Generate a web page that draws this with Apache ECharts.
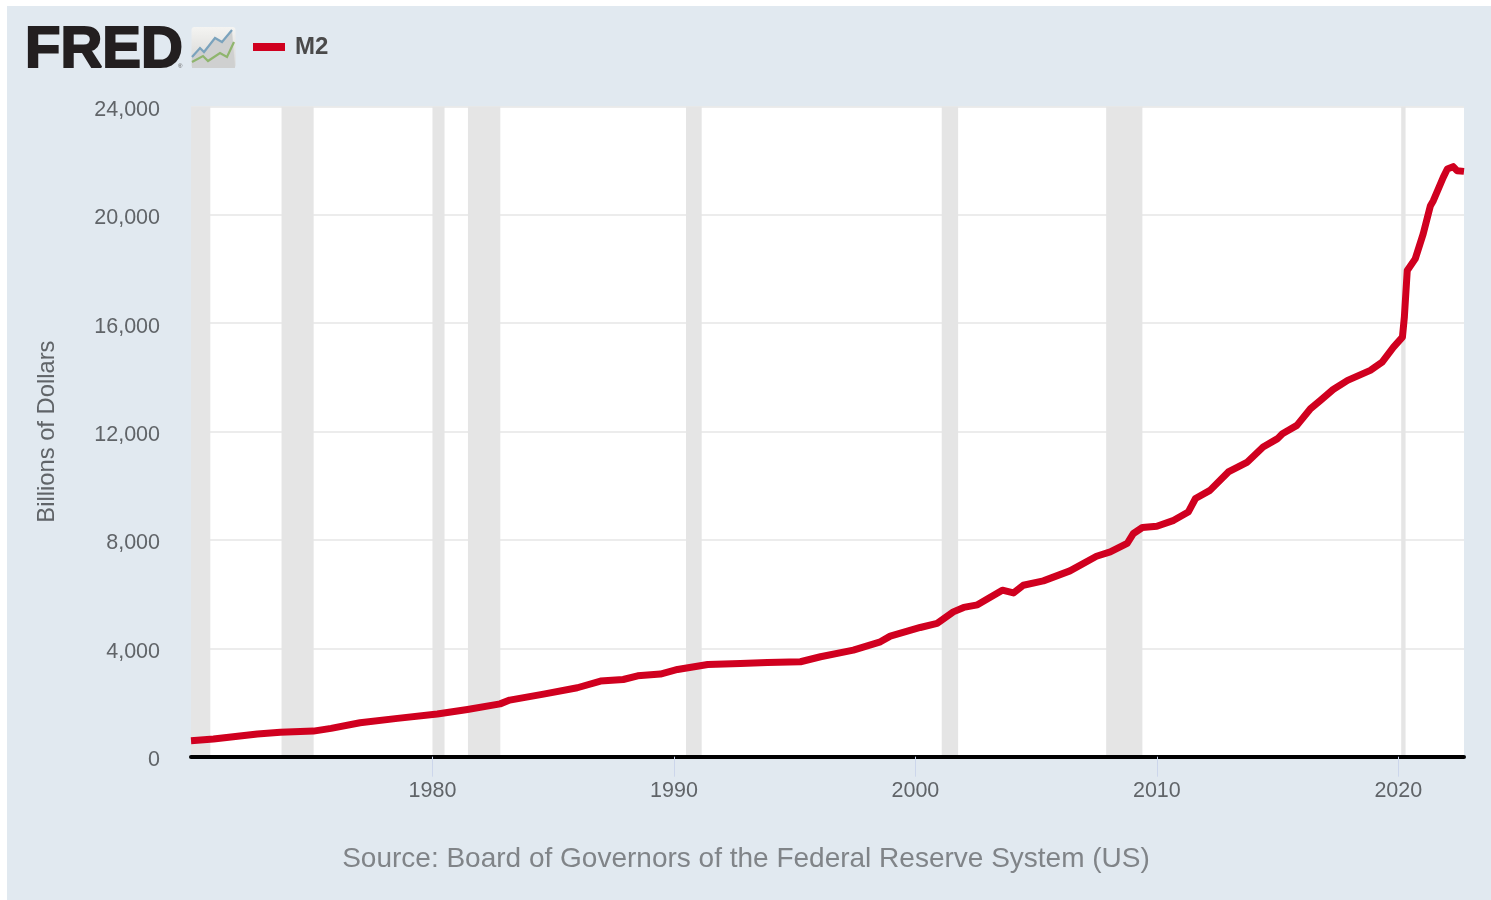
<!DOCTYPE html>
<html>
<head>
<meta charset="utf-8">
<style>
html,body{margin:0;padding:0;background:#fff;width:1491px;height:900px;overflow:hidden}
#panel{position:absolute;left:7px;top:6px;width:1484px;height:894px;background:#e1e9f0}
#chart{position:absolute;left:0;top:0;width:1491px;height:900px}
</style>
<script src="https://cdn.jsdelivr.net/npm/echarts@6/dist/echarts.min.js"></script>
</head>
<body>
<div id="panel"></div>
<div id="chart"></div>
<script>
const seriesName = 'M2';
const years = [1970.0,1970.93,1972.75,1973.7,1975.07,1975.8,1977.0,1978.55,1980.2,1981.45,1982.8,1983.2,1984.6,1986.0,1986.96,1987.9,1988.5,1989.44,1990.15,1991.4,1992.75,1993.87,1995.24,1996.07,1997.43,1998.55,1998.96,2000.2,2000.9,2001.57,2002.0,2002.57,2003.6,2004.06,2004.47,2005.3,2006.4,2007.5,2008.07,2008.77,2009.03,2009.4,2010.0,2010.7,2011.3,2011.6,2012.2,2012.96,2013.75,2014.4,2015.0,2015.2,2015.8,2016.36,2016.77,2017.3,2017.9,2018.84,2019.33,2019.8,2020.17,2020.25,2020.37,2020.7,2021.03,2021.33,2021.45,2021.86,2022.03,2022.27,2022.43,2022.72];
const m2 = [590,650,835,900,945,1045,1255,1415,1575,1745,1950,2090,2310,2545,2790,2850,2985,3050,3220,3405,3440,3480,3505,3690,3935,4240,4450,4770,4920,5345,5510,5605,6145,6045,6330,6490,6860,7400,7560,7870,8240,8460,8505,8725,9030,9530,9830,10510,10875,11430,11740,11920,12230,12845,13150,13555,13890,14260,14565,15120,15490,16225,17945,18375,19300,20340,20525,21385,21695,21780,21630,21605];
const recessionStart = [1970.0,1973.75,1980.0,1981.47,1990.5,2001.09,2007.9,2020.12];
const recessionEnd   = [1970.8,1975.08,1980.5,1982.81,1991.15,2001.77,2009.4,2020.3];
const xTicks = [1980,1990,2000,2010,2020];
const yMax = 24000, yStep = 4000;
const yAxisTitle = 'Billions of Dollars';
const sourceText = 'Source: Board of Governors of the Federal Reserve System (US)';
const font = '"Liberation Sans", Arial, sans-serif';

const chart = echarts.init(document.getElementById('chart'), null, {renderer:'canvas'});
chart.setOption({
  animation:false,
  backgroundColor:'transparent',
  textStyle:{fontFamily:font},
  title:{
    text:sourceText, left:741, top:840, textAlign:'center',
    textStyle:{fontFamily:font,fontSize:28,fontWeight:'normal',color:'#808488'}
  },
  legend:{
    left:248, top:30, icon:'rect', itemWidth:32, itemHeight:8,
    data:[seriesName],
    textStyle:{fontFamily:font,fontSize:24,fontWeight:'bold',color:'#4a4a4a',padding:[0,0,0,5]}
  },
  grid:{left:191,right:27,top:106.5,height:650.2,show:true,backgroundColor:'#fff',borderWidth:0,containLabel:false},
  xAxis:{
    type:'value', min:1970, max:2022.72, interval:10, boundaryGap:false, z:10,
    splitLine:{show:false},
    axisLine:{show:true,onZero:false,lineStyle:{color:'#000',width:4}},
    axisTick:{show:true,length:20,customValues:xTicks,lineStyle:{color:'#ccd6eb',width:1}},
    axisLabel:{customValues:xTicks,margin:23,fontSize:21.5,color:'#606468',fontFamily:font,formatter:v=>String(v)}
  },
  yAxis:{
    type:'value', min:0, max:yMax, interval:yStep,
    name:yAxisTitle, nameLocation:'middle', nameGap:132, nameRotate:90,
    nameTextStyle:{fontFamily:font,fontSize:23.75,color:'#606468'},
    axisLine:{show:false}, axisTick:{show:false},
    splitLine:{show:true,lineStyle:{color:'#e6e6e6',width:1.5}},
    axisLabel:{margin:31,fontSize:21.5,color:'#606468',fontFamily:font,verticalAlign:'top',lineHeight:7,
      formatter:v=>v.toLocaleString('en-US')}
  },
  graphic:[
    {type:'text',left:24,top:21,z:10,style:{text:'FRED',fontFamily:font,fontSize:58,fontWeight:'bold',fill:'#231f20',stroke:'#231f20',lineWidth:2}},
    {type:'text',left:178,top:63,z:10,style:{text:'®',fontFamily:font,fontSize:6,fill:'#555'}},
    {type:'rect',z:10,shape:{x:191.5,y:27,width:44,height:41,r:3},
      style:{fill:new echarts.graphic.LinearGradient(0,0,0,1,[{offset:0,color:'#f4f4f2'},{offset:1,color:'#d4d4d2'}])}},
    {type:'polygon',z:10,shape:{points:[[192,57],[200,48],[204,52],[215,38],[222,42],[232,30],[235,68],[192,68]]},style:{fill:'#cfd0d0'}},
    {type:'polyline',z:11,shape:{points:[[192,57],[200,48],[204,52],[215,38],[222,42],[232,30]]},style:{stroke:'#7ba3bd',lineWidth:2.2,fill:null}},
    {type:'polyline',z:11,shape:{points:[[192,62],[203,56],[208,61],[220,53],[227,57],[234,42]]},style:{stroke:'#8fb56e',lineWidth:2.2,fill:null}}
  ],
  series:[{
    name:seriesName, type:'line', showSymbol:false, symbol:'none', smooth:false,
    lineStyle:{color:'#d0001f',width:7,join:'round'},
    itemStyle:{color:'#d0001f'},
    data:years.map((y,i)=>[y,m2[i]]),
    markArea:{
      silent:true, itemStyle:{color:'#e5e5e5',opacity:1},
      data:recessionStart.map((s,i)=>[{xAxis:s},{xAxis:recessionEnd[i]}])
    },
    z:5
  }]
});
</script>
</body>
</html>
